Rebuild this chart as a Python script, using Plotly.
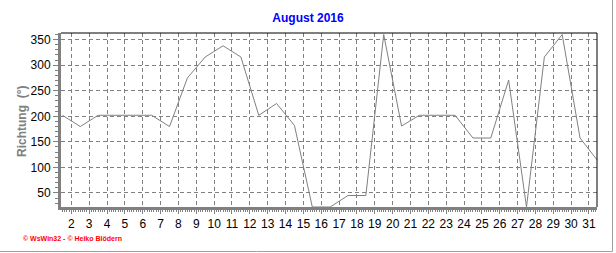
import plotly.graph_objects as go

# --- data ---
days = list(range(1, 32))
richtung = [202, 180, 202, 202, 202, 202, 180, 275, 316, 338, 316, 202, 225, 182,
            22.5, 22.5, 45, 45, 360, 181, 202, 202, 202, 157.5, 157.5, 271, 22.5,
            316, 360, 157.5, 112.5]
x_pos = [d + 0.5 for d in days]  # daily values plotted at mid-day
title_text = "August 2016"
y_title = "Richtung  (°)"
footer = "© WsWin32 - © Heiko Blödern"

W, H = 616, 253
L, R, T, B = 61, 19, 33, 46
pw, ph = W - L - R, H - T - B

def px_x(p):
    return (p - L) / pw

def px_y(p):
    return (H - B - p) / ph

fig = go.Figure()
fig.add_trace(go.Scatter(x=x_pos, y=richtung, mode="lines",
                         line=dict(color="#808080", width=1), hoverinfo="skip"))

font = "Arial, Liberation Sans, sans-serif"
fig.update_layout(
    width=W, height=H,
    margin=dict(l=L, r=R, t=T, b=B, pad=0),
    paper_bgcolor="white", plot_bgcolor="white",
    showlegend=False,
    title=dict(text=title_text, x=0.5, xref="container", xanchor="center",
               y=1 - 18 / H, yref="container", yanchor="middle",
               font=dict(family=font, size=12, color="#0000FF", weight="bold")),
    font=dict(family=font, size=12, color="black"),
)
fig.update_xaxes(range=[1.42, 31.45], tick0=0, dtick=1,
                 showline=True, linecolor="#808080", linewidth=3,
                 ticks="outside", ticklen=4, tickcolor="#808080", tickwidth=1,
                 showgrid=True, gridcolor="#808080", gridwidth=1, griddash="4px,3px",
                 zeroline=False, tickfont=dict(size=12, color="black"),
                 minor=dict(dtick=0.125, tick0=0, ticks="outside", ticklen=2,
                            tickcolor="#808080", showgrid=False))
fig.update_yaxes(range=[22.5, 363], tick0=0, dtick=50,
                 showline=True, linecolor="#808080", linewidth=3,
                 ticks="outside", ticklen=5, tickcolor="#808080", tickwidth=1,
                 showgrid=True, gridcolor="#808080", gridwidth=1, griddash="4px,3px",
                 zeroline=False, tickfont=dict(size=12, color="black"),
                 minor=dict(dtick=10, tick0=0, ticks="outside", ticklen=3,
                            tickcolor="#808080", showgrid=False))

# top and right black frame of plot area
fig.add_shape(type="line", xref="paper", yref="paper", x0=0, x1=1, y0=1, y1=1,
              line=dict(color="black", width=1))
fig.add_shape(type="line", xref="paper", yref="paper", x0=1, x1=1, y0=0, y1=1,
              line=dict(color="black", width=1))
# outer frame (right & bottom)
fig.add_shape(type="line", xref="paper", yref="paper", x0=px_x(612.5), x1=px_x(612.5),
              y0=px_y(0), y1=px_y(251.5), line=dict(color="#a0a0a0", width=1))
fig.add_shape(type="line", xref="paper", yref="paper", x0=px_x(0), x1=px_x(612.5),
              y0=px_y(251.5), y1=px_y(251.5), line=dict(color="#a0a0a0", width=1))

fig.add_annotation(text=y_title, xref="paper", yref="paper", x=px_x(22), y=px_y(122),
                   xanchor="center", yanchor="middle", textangle=-90, showarrow=False,
                   font=dict(family=font, size=12, color="#808080", weight="bold"))
fig.add_annotation(text=footer, xref="paper", yref="paper", x=px_x(21), y=px_y(238.5),
                   xanchor="left", yanchor="middle", showarrow=False,
                   font=dict(family=font, size=7, color="#FF0000", weight="bold"))

fig.write_html("out.html")
